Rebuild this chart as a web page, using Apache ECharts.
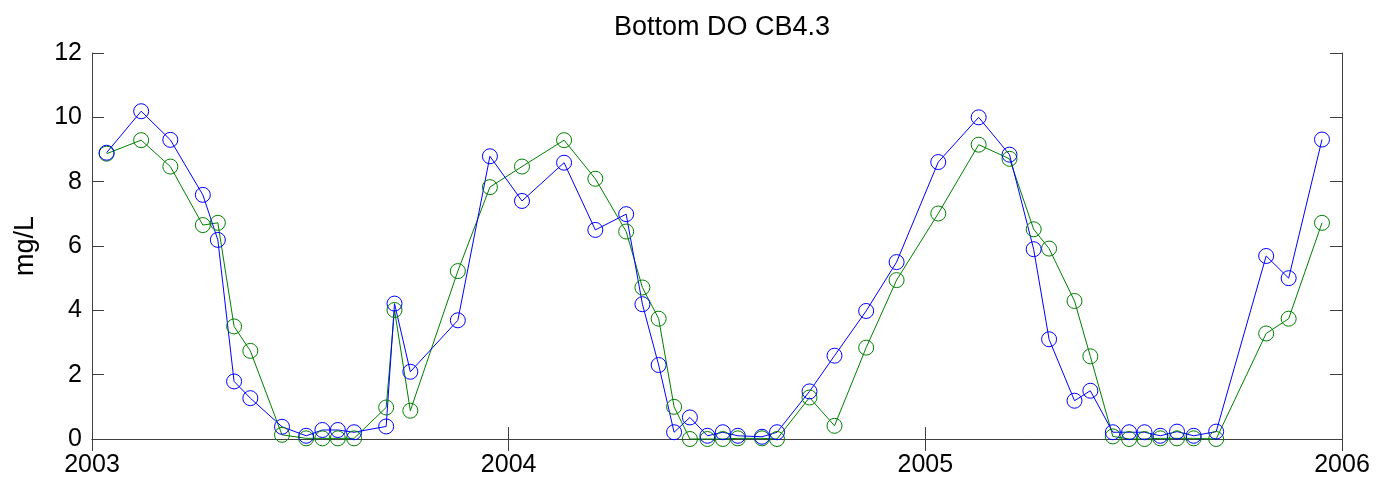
<!DOCTYPE html>
<html>
<head>
<meta charset="utf-8">
<script src="https://cdn.jsdelivr.net/npm/echarts@6/dist/echarts.min.js"></script>
<style>
html,body{margin:0;padding:0;background:#fff;}
#chart{width:1385px;height:478px;}
</style>
</head>
<body>
<div id="chart"></div>
<script>
// Sample dates in decimal years
const dates = [2003.035, 2003.118, 2003.188, 2003.266, 2003.302, 2003.341, 2003.380, 2003.456, 2003.514, 2003.553, 2003.590, 2003.629, 2003.706, 2003.726, 2003.764, 2003.878, 2003.955, 2004.032, 2004.133, 2004.208, 2004.282, 2004.321, 2004.360, 2004.397, 2004.435, 2004.477, 2004.514, 2004.550, 2004.608, 2004.644, 2004.722, 2004.782, 2004.858, 2004.931, 2005.031, 2005.128, 2005.202, 2005.260, 2005.297, 2005.358, 2005.396, 2005.450, 2005.489, 2005.526, 2005.564, 2005.604, 2005.644, 2005.698, 2005.818, 2005.872, 2005.952];
const blueValues = [8.9, 10.19, 9.3, 7.59, 6.19, 1.79, 1.27, 0.38, 0.1, 0.28, 0.28, 0.21, 0.39, 4.21, 2.09, 3.69, 8.79, 7.4, 8.59, 6.5, 6.99, 4.19, 2.3, 0.21, 0.67, 0.1, 0.21, 0.1, 0.07, 0.21, 1.48, 2.59, 3.98, 5.5, 8.61, 10.0, 8.84, 5.9, 3.1, 1.19, 1.5, 0.21, 0.21, 0.21, 0.1, 0.23, 0.1, 0.23, 5.69, 5.0, 9.31];
const greenValues = [8.87, 9.29, 8.47, 6.65, 6.72, 3.5, 2.74, 0.13, 0.02, 0.02, 0.02, 0.02, 0.98, 4.01, 0.88, 5.22, 7.83, 8.47, 9.29, 8.09, 6.45, 4.71, 3.74, 1.0, 0.0, 0.0, 0.0, 0.02, 0.02, 0.0, 1.29, 0.41, 2.84, 4.94, 7.01, 9.15, 8.71, 6.52, 5.92, 4.29, 2.57, 0.08, 0.0, 0.0, 0.02, 0.02, 0.02, 0.0, 3.28, 3.74, 6.72];
const xTicks = [2003, 2004, 2005, 2006];
const yTicks = [0, 2, 4, 6, 8, 10, 12];
const titleText = 'Bottom DO CB4.3';
const yName = 'mg/L';

const FONT = '"Liberation Sans", Arial, Helvetica, sans-serif';
const AX = '#404040';
const chart = echarts.init(document.getElementById('chart'), null, {renderer: 'canvas'});

function mk(values, color) {
  return {
    type: 'line',
    data: dates.map((d, i) => [d, values[i]]),
    symbol: 'circle',
    symbolSize: 15,
    clip: false,
    lineStyle: {color: color, width: 1},
    itemStyle: {color: 'rgba(0,0,0,0)', borderColor: color, borderWidth: 1},
    emphasis: {disabled: true},
    animation: false,
    z: 3
  };
}

const baseX = {
  type: 'value', min: xTicks[0], max: xTicks[xTicks.length - 1], interval: 1,
  splitLine: {show: false},
  axisLine: {show: true, lineStyle: {color: AX, width: 1}},
  axisTick: {show: true, inside: true, length: 12, lineStyle: {color: AX, width: 1}}
};
const baseY = {
  type: 'value', min: yTicks[0], max: yTicks[yTicks.length - 1], interval: 2,
  splitLine: {show: false},
  axisLine: {show: true, lineStyle: {color: AX, width: 1}},
  axisTick: {show: true, inside: true, length: 12, lineStyle: {color: AX, width: 1}}
};

chart.setOption({
  backgroundColor: '#fff',
  animation: false,
  title: {
    text: titleText, left: 717, top: 9, textAlign: 'center',
    textStyle: {fontFamily: FONT, fontSize: 27, fontWeight: 'normal', color: '#000'}
  },
  grid: {left: 92, right: 43, top: 53, bottom: 38, containLabel: false},
  xAxis: [
    Object.assign({}, baseX, {
      position: 'bottom',
      axisLabel: {show: true, margin: 14, fontFamily: FONT, fontSize: 25, color: '#000',
        formatter: v => String(Math.round(v))}
    }),
    Object.assign({}, baseX, {position: 'top', axisLabel: {show: false}})
  ],
  yAxis: [
    Object.assign({}, baseY, {
      position: 'left',
      name: yName, nameLocation: 'middle', nameGap: 53, nameRotate: 90,
      nameTextStyle: {fontFamily: FONT, fontSize: 27, color: '#000'},
      axisLabel: {show: true, margin: 10, fontFamily: FONT, fontSize: 25, color: '#000'}
    }),
    Object.assign({}, baseY, {position: 'right', axisLabel: {show: false}})
  ],
  series: [mk(greenValues, '#008000'), mk(blueValues, '#0000ff')]
});
</script>
</body>
</html>
